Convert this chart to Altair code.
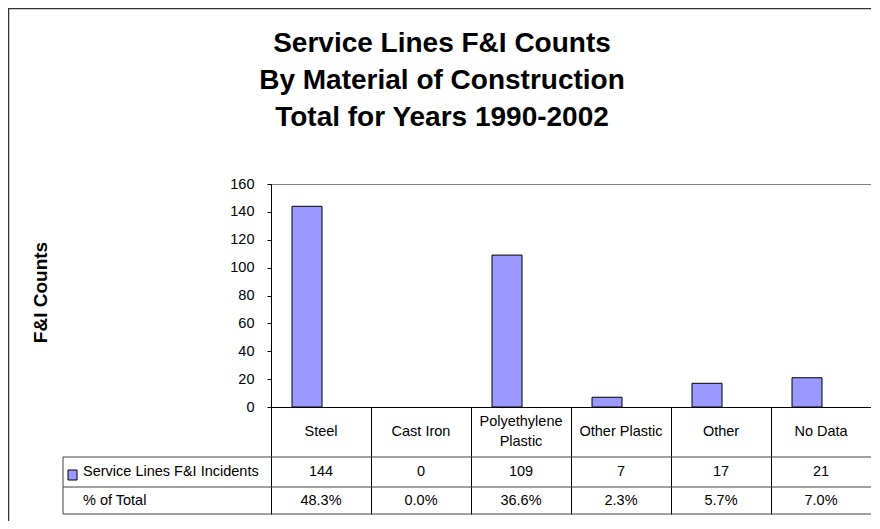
import altair as alt
import pandas as pd

# ---- data ----
CATEGORIES = ["Steel", "Cast Iron", "Polyethylene Plastic", "Other Plastic", "Other", "No Data"]
CAT_LABELS = ["Steel", "Cast Iron", "Polyethylene\nPlastic", "Other Plastic", "Other", "No Data"]
COUNTS = [144, 0, 109, 7, 17, 21]
PCT_LABELS = ["48.3%", "0.0%", "36.6%", "2.3%", "5.7%", "7.0%"]
Y_TICKS = [0, 20, 40, 60, 80, 100, 120, 140, 160]
TITLE_LINES = ["Service Lines F&I Counts", "By Material of Construction", "Total for Years 1990-2002"]
SERIES_NAME = "Service Lines F&I Incidents"
PCT_ROW_NAME = "% of Total"
Y_TITLE = "F&I Counts"

df = pd.DataFrame({"cat": CATEGORIES, "label": CAT_LABELS, "count": COUNTS, "pct": PCT_LABELS})
one = pd.DataFrame({"k": [0]})

W, H = 600, 223
FONT = "Liberation Sans"
BAR = "#9999FF"
TABLE_H = 107
LINE_H = 20

X_ENC = alt.X(
    "cat:N", sort=CATEGORIES,
    scale=alt.Scale(paddingInner=0, paddingOuter=0),
    axis=alt.Axis(title=None, labels=False, tickBand="extent", tickSize=TABLE_H,
                  tickColor="black", tickWidth=1, domainColor="black", domainWidth=1, grid=False),
)

frame = alt.Chart(one).mark_rect(fillOpacity=0, stroke="#333333", strokeWidth=1.5).encode(
    x=alt.value(-262.5), x2=alt.value(W + 100), y=alt.value(-175.5), y2=alt.value(H + 300)
)

title = alt.Chart(one).mark_text(
    lineBreak="\n", lineHeight=37, fontSize=28, fontWeight="bold", font=FONT,
    align="center", baseline="alphabetic", color="black"
).encode(x=alt.value(171), y=alt.value(-132), text=alt.value("\n".join(TITLE_LINES)))

bars = alt.Chart(df).transform_filter("datum.count > 0").mark_bar(
    size=30, xOffset=-14, fill=BAR, stroke="black", strokeWidth=1
).encode(
    x=X_ENC,
    y=alt.Y("count:Q", scale=alt.Scale(domain=[0, 160], nice=False),
            axis=alt.Axis(values=Y_TICKS, title=Y_TITLE, titleFontSize=19, titleFontWeight="bold",
                          titleFont=FONT, titleColor="black", titleX=-231, titleY=108, titleAngle=270,
                          titleAlign="center", titleBaseline="middle",
                          labelFontSize=14.5, labelFont=FONT, labelColor="black",
                          tickSize=4, tickColor="black", labelPadding=13,
                          domainColor="black", grid=False)),
)

cat_text_single = alt.Chart(df).transform_filter("indexof(datum.label, '\\n') < 0").mark_text(
    fontSize=14.5, font=FONT, color="black", baseline="middle"
).encode(x=X_ENC, y=alt.value(248), text="label:N")

cat_text_multi = alt.Chart(df).transform_filter("indexof(datum.label, '\\n') >= 0").mark_text(
    lineBreak="\n", lineHeight=LINE_H, fontSize=14.5, font=FONT, color="black", baseline="middle"
).encode(x=X_ENC, y=alt.value(248 - LINE_H / 2), text="label:N")

count_text = alt.Chart(df).mark_text(fontSize=14.5, font=FONT, color="black", baseline="middle").encode(
    x=X_ENC, y=alt.value(288), text="count:Q")

pct_text = alt.Chart(df).mark_text(fontSize=14.5, font=FONT, color="black", baseline="middle").encode(
    x=X_ENC, y=alt.value(316.5), text="pct:N")

row1_name = alt.Chart(one).mark_text(fontSize=14.5, font=FONT, color="black", align="left", baseline="middle").encode(
    x=alt.value(-188), y=alt.value(288), text=alt.value(SERIES_NAME))
row2_name = alt.Chart(one).mark_text(fontSize=14.5, font=FONT, color="black", align="left", baseline="middle").encode(
    x=alt.value(-188), y=alt.value(316.5), text=alt.value(PCT_ROW_NAME))

legend_key = alt.Chart(one).mark_rect(fill=BAR, stroke="black", strokeWidth=1).encode(
    x=alt.value(-203), x2=alt.value(-194), y=alt.value(286), y2=alt.value(296))

LINE = "#404040"
h1 = alt.Chart(one).mark_rule(color=LINE, strokeWidth=1).encode(x=alt.value(-208), x2=alt.value(W), y=alt.value(H + 50))
h2 = alt.Chart(one).mark_rule(color=LINE, strokeWidth=1).encode(x=alt.value(-208), x2=alt.value(W), y=alt.value(H + 80))
h3 = alt.Chart(one).mark_rule(color=LINE, strokeWidth=1).encode(x=alt.value(-208), x2=alt.value(W), y=alt.value(H + TABLE_H))
v1 = alt.Chart(one).mark_rule(color=LINE, strokeWidth=1).encode(x=alt.value(-208), y=alt.value(H + 50), y2=alt.value(H + TABLE_H))

chart = alt.layer(
    frame, title, bars, cat_text_single, cat_text_multi, count_text, pct_text,
    row1_name, row2_name, legend_key, h1, h2, h3, v1
).properties(
    width=W, height=H, autosize="none",
    padding={"left": 263, "top": 176, "right": 0, "bottom": 114},
    background="white",
).configure_view(stroke="#808080", strokeWidth=1)

chart.save("out.html", embed_options={"renderer": "svg", "actions": False})
